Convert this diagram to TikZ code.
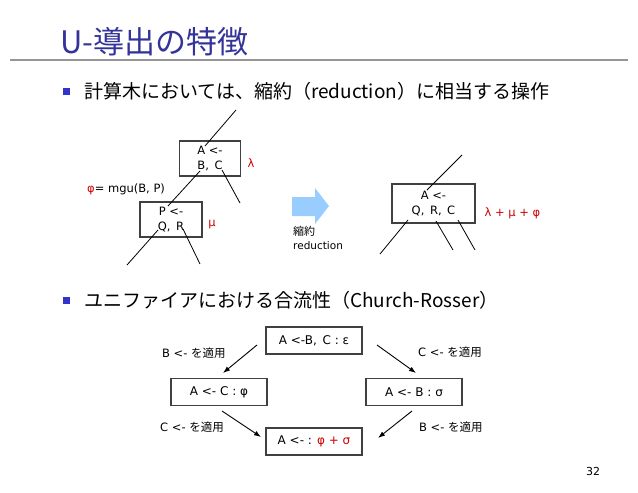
\documentclass[tikz,border=0pt]{standalone}
\usepackage{fontspec}
\setmainfont{DejaVu Sans}
\newfontfamily\jp{Noto Sans CJK JP}
\usetikzlibrary{arrows.meta}
\definecolor{titleblue}{RGB}{51,51,153}
\definecolor{bulletblue}{RGB}{51,51,204}
\definecolor{rulegray}{RGB}{150,150,150}
\definecolor{redtxt}{RGB}{204,0,0}
\definecolor{arrowblue}{RGB}{153,204,255}
\definecolor{boxgray}{RGB}{64,64,64}
\tikzset{
  dtext/.style={inner sep=0pt, font=\fontsize{11.5}{14}\selectfont},
  treebox/.style={draw=boxgray, line width=1.2pt, inner sep=0pt, align=center,
    font=\fontsize{11.5}{14.5}\selectfont},
  crbox/.style={draw=boxgray, line width=1.2pt, inner sep=0pt,
    minimum width=96pt, minimum height=27pt, font=\fontsize{12}{14}\selectfont},
  edge/.style={black, line width=0.8pt},
  arr/.style={black, line width=0.9pt, -{Latex[length=7pt,width=5pt]}},
  bulletsq/.style={fill=bulletblue, minimum size=7pt, inner sep=0pt},
  bullettext/.style={inner sep=0pt, anchor=west, font=\jp\fontsize{19}{24}\selectfont},
}
\begin{document}
\begin{tikzpicture}[x=1pt,y=-1pt]
\useasboundingbox (0,0) rectangle (638,493);
% title
\node[inner sep=0pt, anchor=west, text=titleblue, font=\jp\fontsize{31}{34}\selectfont] (title) at (60,42) {U-導出の特徴};
\draw[rulegray, line width=2pt] (10,60) -- (628,60);
% bullets
\node[bulletsq] (b1) at (66,91) {};
\node[bullettext] (t1) at (84,91) {計算木においては、縮約（reduction）に相当する操作};
\node[bulletsq] (b2) at (66,300) {};
\node[bullettext] (t2) at (84,300) {ユニファイアにおける合流性（Church-Rosser）};
% tree 1
\node[treebox, minimum width=61pt, minimum height=35pt] (box1) at (210,158.5) {A <-\\B, \,C};
\node[treebox, minimum width=62pt, minimum height=35pt] (boxP) at (171,219.5) {P <-\\Q, \,R};
\node[dtext, text=redtxt] (lam) at (251,163) {λ};
\node[dtext, text=redtxt] (mu) at (212,225) {μ};
\node[dtext, anchor=west] (mgu) at (87,189) {{\color{redtxt}φ}= mgu(B, P)};
\coordinate (t1top) at (236,110); \coordinate (t1A) at (205,146);
\coordinate (t1B) at (200,171); \coordinate (t1P) at (168,206);
\coordinate (t1C) at (222,170); \coordinate (t1Ce) at (240,203);
\coordinate (t1Q) at (158,230); \coordinate (t1Qe) at (127,265);
\coordinate (t1R) at (183,229); \coordinate (t1Re) at (200,264);
\draw[edge] (t1top) -- (t1A);
\draw[edge] (t1B) -- (t1P);
\draw[edge] (t1C) -- (t1Ce);
\draw[edge] (t1Q) -- (t1Qe);
\draw[edge] (t1R) -- (t1Re);
% block arrow
\fill[arrowblue] (292,197) -- (315,197) -- (315,188) -- (329,206) -- (315,224) -- (315,216) -- (292,216) -- cycle;
\node[dtext, anchor=west, font=\jp\fontsize{11}{14}\selectfont] (shuku) at (293,231) {縮約};
\node[dtext, anchor=west, font=\fontsize{10.5}{14}\selectfont] (redu) at (293,246) {reduction};
% tree 2
\node[treebox, minimum width=83pt, minimum height=39pt] (box2) at (433.5,203.5) {A <-\\Q, \,R, \,C};
\node[dtext, text=redtxt] (sum) at (512.5,213) {λ + μ + φ};
\coordinate (t2top) at (462,155); \coordinate (t2A) at (427,190);
\coordinate (t2Q) at (408,220); \coordinate (t2Qe) at (380,254);
\coordinate (t2R) at (436,221); \coordinate (t2Re) at (453,250);
\coordinate (t2C) at (458,220); \coordinate (t2Ce) at (475,250);
\draw[edge] (t2top) -- (t2A);
\draw[edge] (t2Q) -- (t2Qe);
\draw[edge] (t2R) -- (t2Re);
\draw[edge] (t2C) -- (t2Ce);
% Church-Rosser diagram
\node[crbox] (top) at (314,340.5) {A <-B, \,C : ε};
\node[crbox] (left) at (219,392) {A <- C : φ};
\node[crbox] (right) at (414,392) {A <- B : σ};
\node[crbox] (bot) at (314,441.5) {A <- : {\color{redtxt}φ + σ}};
\coordinate (a1s) at (257,345); \coordinate (a1e) at (223,373);
\coordinate (a2s) at (222,411); \coordinate (a2e) at (261,437);
\coordinate (a3s) at (377,345); \coordinate (a3e) at (416,373);
\coordinate (a4s) at (412,411); \coordinate (a4e) at (378,438);
\draw[arr] (a1s) -- (a1e);
\draw[arr] (a2s) -- (a2e);
\draw[arr] (a3s) -- (a3e);
\draw[arr] (a4s) -- (a4e);
\node[dtext, anchor=west] (l1) at (162,353) {B <- {\jp を適用}};
\node[dtext, anchor=west] (l2) at (160,427) {C <- {\jp を適用}};
\node[dtext, anchor=west] (l3) at (418,352) {C <- {\jp を適用}};
\node[dtext, anchor=west] (l4) at (419,427) {B <- {\jp を適用}};
% page number
\node[dtext, font=\fontsize{11}{13}\selectfont] (pg) at (593,471) {32};
\end{tikzpicture}
\end{document}
